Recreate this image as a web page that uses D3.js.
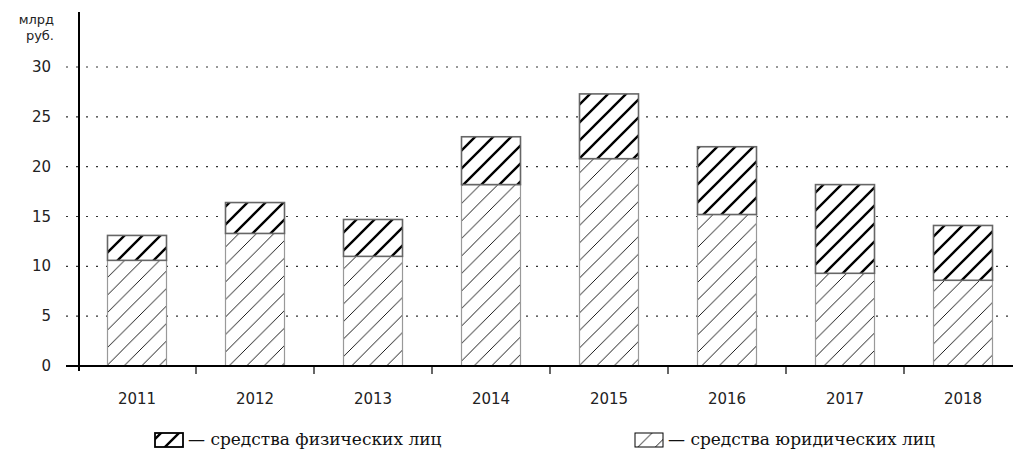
<!DOCTYPE html>
<html>
<head>
<meta charset="utf-8">
<script src="https://cdn.jsdelivr.net/npm/d3@7"></script>
<style>
  body { margin: 0; background: #fff; }
</style>
</head>
<body>
<div id="chart-area"></div>
<script>
// data (млрд руб.)
const years = ['2011', '2012', '2013', '2014', '2015', '2016', '2017', '2018'];
const legal = [10.6, 13.3, 11.0, 18.2, 20.8, 15.2, 9.3, 8.6];
const individual = [2.5, 3.1, 3.7, 4.8, 6.5, 6.8, 8.9, 5.5];
const yTicks = [0, 5, 10, 15, 20, 25, 30];
const legendLabels = ['— средства физических лиц', '— средства юридических лиц'];

const width = 1013;
const height = 453;

const svg = d3.select('#chart-area')
  .append('svg')
  .attr('width', width)
  .attr('height', height);

const defs = svg.append('defs');

function hatch(id, size, strokeWidth) {
  defs.append('pattern')
    .attr('id', id)
    .attr('patternUnits', 'userSpaceOnUse')
    .attr('width', size)
    .attr('height', size)
    .append('path')
    .attr('d', 'M-2,2 l4,-4 M0,' + size + ' l' + size + ',-' + size +
      ' M' + (size - 2) + ',' + (size + 2) + ' l4,-4')
    .attr('stroke', '#000')
    .attr('stroke-width', strokeWidth);
}
hatch('thin', 17.5, 0.9);
hatch('thick', 18, 2.4);

const x = d3.scaleBand()
  .domain(years)
  .range([78, 1022]);

const y = d3.scaleLinear()
  .domain([0, 30])
  .range([366, 67]);

// dotted grid
svg.append('g')
  .selectAll('line')
  .data(yTicks.slice(1))
  .enter()
  .append('line')
  .attr('x1', 66)
  .attr('x2', width)
  .attr('y1', (d) => y(d))
  .attr('y2', (d) => y(d))
  .attr('stroke', '#333')
  .attr('stroke-width', 1.2)
  .attr('stroke-dasharray', '2,8');

// y labels
svg.append('g')
  .selectAll('text')
  .data(yTicks)
  .enter()
  .append('text')
  .attr('x', 51)
  .attr('y', (d) => y(d) + 5)
  .attr('text-anchor', 'end')
  .attr('font-family', 'DejaVu Sans, sans-serif')
  .attr('font-size', 15)
  .attr('fill', '#222')
  .text((d) => d);

const unit = svg.append('text')
  .attr('text-anchor', 'end')
  .attr('font-family', 'DejaVu Sans, sans-serif')
  .attr('font-size', 13)
  .attr('fill', '#222');
unit.append('tspan').attr('x', 54).attr('y', 24).text('млрд');
unit.append('tspan').attr('x', 54).attr('y', 40).text('руб.');

const bw = x.bandwidth() / 2;
const bars = svg.append('g');

bars.selectAll('rect.legal')
  .data(years)
  .enter()
  .append('rect')
  .attr('class', 'legal')
  .attr('x', (d) => x(d) + bw / 2)
  .attr('y', (d, i) => y(legal[i]))
  .attr('width', bw)
  .attr('height', (d, i) => y(0) - y(legal[i]))
  .attr('fill', '#fff')
  .attr('stroke', 'none');

bars.selectAll('rect.legalh')
  .data(years)
  .enter()
  .append('rect')
  .attr('class', 'legalh')
  .attr('x', (d) => x(d) + bw / 2)
  .attr('y', (d, i) => y(legal[i]))
  .attr('width', bw)
  .attr('height', (d, i) => y(0) - y(legal[i]))
  .attr('fill', 'url(#thin)')
  .attr('stroke', '#999')
  .attr('stroke-width', 1.2);

bars.selectAll('rect.ind')
  .data(years)
  .enter()
  .append('rect')
  .attr('class', 'ind')
  .attr('x', (d) => x(d) + bw / 2)
  .attr('y', (d, i) => y(legal[i] + individual[i]))
  .attr('width', bw)
  .attr('height', (d, i) => y(legal[i]) - y(legal[i] + individual[i]))
  .attr('fill', '#fff');

bars.selectAll('rect.indh')
  .data(years)
  .enter()
  .append('rect')
  .attr('class', 'indh')
  .attr('x', (d) => x(d) + bw / 2)
  .attr('y', (d, i) => y(legal[i] + individual[i]))
  .attr('width', bw)
  .attr('height', (d, i) => y(legal[i]) - y(legal[i] + individual[i]))
  .attr('fill', 'url(#thick)')
  .attr('stroke', '#666')
  .attr('stroke-width', 1.6);

// axes
svg.append('line')
  .attr('x1', 79).attr('x2', 79)
  .attr('y1', 12).attr('y2', 371)
  .attr('stroke', '#000').attr('stroke-width', 2);

const xAxis = svg.append('g')
  .attr('transform', 'translate(0,' + y(0) + ')')
  .call(d3.axisBottom(x).tickSize(0).tickPadding(27));
xAxis.select('.domain').remove();
xAxis.selectAll('text')
  .attr('font-family', 'DejaVu Sans, sans-serif')
  .attr('font-size', 15)
  .attr('fill', '#222');

svg.append('line')
  .attr('x1', 66).attr('x2', width)
  .attr('y1', y(0)).attr('y2', y(0))
  .attr('stroke', '#000').attr('stroke-width', 2.2);

svg.append('g')
  .selectAll('line')
  .data(years.slice(1))
  .enter()
  .append('line')
  .attr('x1', (d) => x(d))
  .attr('x2', (d) => x(d))
  .attr('y1', y(0))
  .attr('y2', y(0) + 8)
  .attr('stroke', '#000')
  .attr('stroke-width', 1.2);

// legend
const legend = svg.append('g');
const legendX = [155, 635];
const legendFill = ['thick', 'thin'];
legendLabels.forEach((label, i) => {
  legend.append('rect')
    .attr('x', legendX[i]).attr('y', 433)
    .attr('width', 28).attr('height', 14)
    .attr('fill', 'url(#' + legendFill[i] + ')')
    .attr('stroke', '#000')
    .attr('stroke-width', i === 0 ? 1.8 : 1);
  legend.append('text')
    .attr('x', legendX[i] + 33)
    .attr('y', 445)
    .attr('font-family', 'DejaVu Serif, serif')
    .attr('font-size', 17)
    .attr('fill', '#111')
    .text(label);
});
</script>
</body>
</html>
